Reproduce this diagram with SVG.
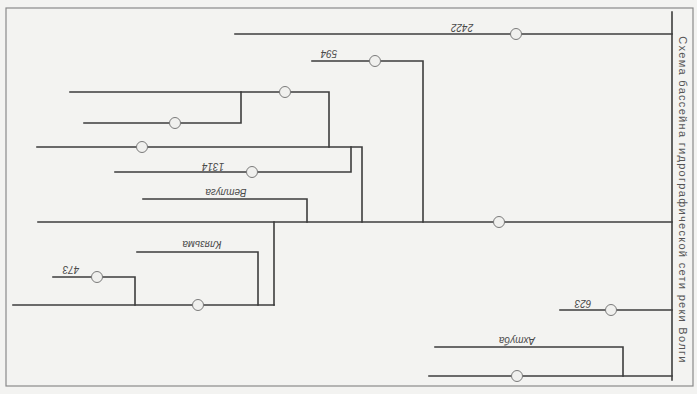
<svg xmlns="http://www.w3.org/2000/svg" width="697" height="394" viewBox="0 0 697 394">
<style>
.bg{fill:#f3f3f1}
.frame{fill:none;stroke:#8a8a8a;stroke-width:1.2}
.r{fill:none;stroke:#3d3d3d;stroke-width:1.6;stroke-linecap:square}
.c{fill:#f0f0ee;stroke:#7a7a7a;stroke-width:1}
.lbl{font-family:"Liberation Sans",Arial,sans-serif;font-style:italic;font-size:10px;fill:#4a4a4a;text-anchor:middle;dominant-baseline:central}
.title{font-family:"Liberation Sans",Arial,sans-serif;font-size:11px;fill:#555;text-anchor:middle;dominant-baseline:central;letter-spacing:1.3px}
</style>
<rect class="bg" x="0" y="0" width="697" height="394"/>
<rect class="frame" x="6" y="8" width="687" height="378"/>
<g id="connectors">
<path class="r" d="M672 12 V380"/>
<path class="r" d="M235 34 H672"/>
<path class="r" d="M312 61 H423 V222"/>
<path class="r" d="M70 92 H329 V147"/>
<path class="r" d="M84 123 H241 V92"/>
<path class="r" d="M37 147 H362 V222"/>
<path class="r" d="M115 172 H351 V147"/>
<path class="r" d="M143 199 H307 V222"/>
<path class="r" d="M38 222 H672"/>
<path class="r" d="M274 222 V305"/>
<path class="r" d="M13 305 H274"/>
<path class="r" d="M137 252 H258 V305"/>
<path class="r" d="M53 277 H135 V305"/>
<path class="r" d="M560 310 H672"/>
<path class="r" d="M435 347 H623 V376"/>
<path class="r" d="M429 376 H672"/>
</g>
<g id="node-circles">
<circle class="c" cx="516" cy="34" r="5.5"/>
<circle class="c" cx="375" cy="61" r="5.5"/>
<circle class="c" cx="285" cy="92" r="5.5"/>
<circle class="c" cx="175" cy="123" r="5.5"/>
<circle class="c" cx="142" cy="147" r="5.5"/>
<circle class="c" cx="252" cy="172" r="5.5"/>
<circle class="c" cx="499" cy="222" r="5.5"/>
<circle class="c" cx="97" cy="277" r="5.5"/>
<circle class="c" cx="198" cy="305" r="5.5"/>
<circle class="c" cx="611" cy="310" r="5.5"/>
<circle class="c" cx="517" cy="376" r="5.5"/>
</g>
<g id="labels">
<text class="lbl" x="462" y="27" transform="rotate(180 462 27)">2422</text>
<text class="lbl" x="329" y="53" transform="rotate(180 329 53)">594</text>
<text class="lbl" x="213" y="166" transform="rotate(180 213 166)">1314</text>
<text class="lbl" x="226" y="192" transform="rotate(180 226 192)">Ветлуга</text>
<text class="lbl" x="202" y="244" transform="rotate(180 202 244)">Клязьма</text>
<text class="lbl" x="71" y="269" transform="rotate(180 71 269)">473</text>
<text class="lbl" x="583" y="303" transform="rotate(180 583 303)">623</text>
<text class="lbl" x="517" y="340" transform="rotate(180 517 340)">Ахтуба</text>
</g>
<g id="title">
<text class="title" x="683" y="200" transform="rotate(90 683 200)">Схема бассейна гидрографической сети реки Волги</text>
</g>
</svg>
